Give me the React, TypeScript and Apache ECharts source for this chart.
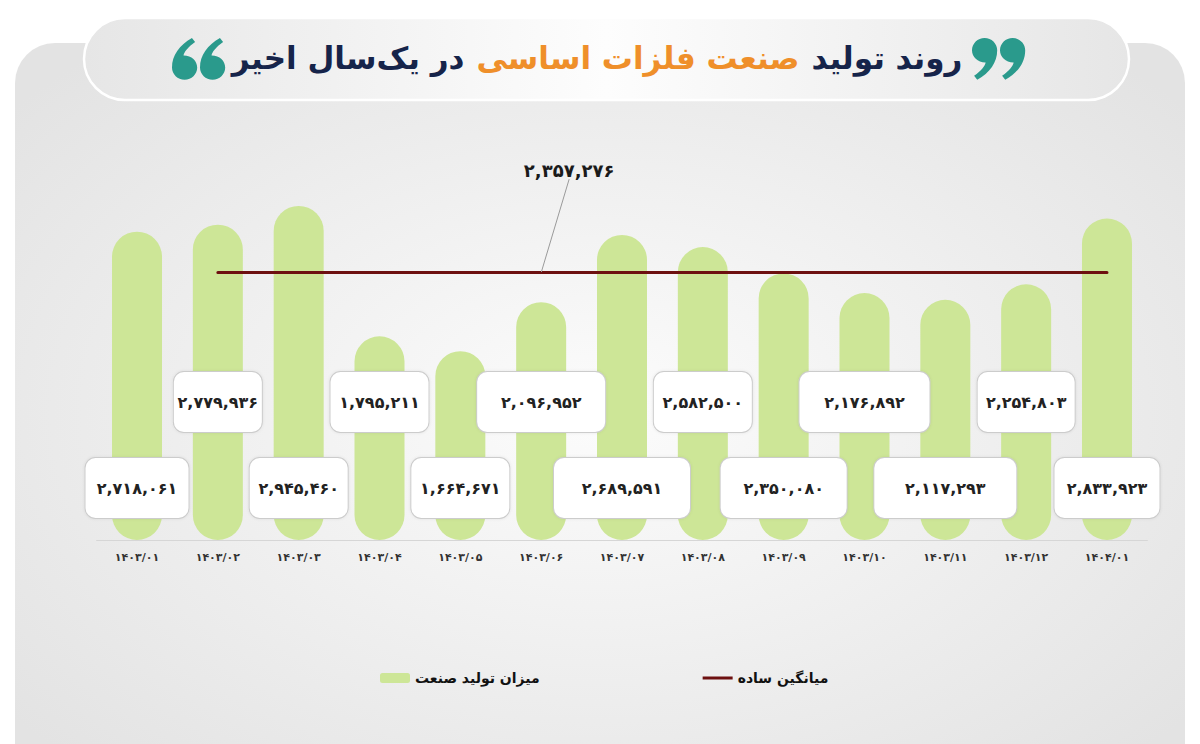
import React, { useEffect, useRef } from "react";
import * as echarts from "echarts";

const categories = ["۱۴۰۳/۰۱", "۱۴۰۳/۰۲", "۱۴۰۳/۰۳", "۱۴۰۳/۰۴", "۱۴۰۳/۰۵", "۱۴۰۳/۰۶", "۱۴۰۳/۰۷", "۱۴۰۳/۰۸", "۱۴۰۳/۰۹", "۱۴۰۳/۱۰", "۱۴۰۳/۱۱", "۱۴۰۳/۱۲", "۱۴۰۴/۰۱"];
const production = [2718061, 2779936, 2945460, 1795211, 1664671, 2096952, 2689591, 2582500, 2350080, 2176892, 2117293, 2254803, 2833923];
const average = 2357276;
const avgLabelIndex = 5;
const seriesNames = ["میزان تولید صنعت", "میانگین ساده"];
const titleParts = ["در یک‌سال اخیر", "صنعت فلزات اساسی", "روند تولید"];

const labelBoxWidths = [103, 88, 98, 98, 98, 128, 136, 98, 126, 130, 142, 97, 105];

const FA = "۰۱۲۳۴۵۶۷۸۹";
const toFa = (s: string) => s.replace(/\d/g, (d) => FA[+d]);
const fmt = (v: number) => toFa(v.toLocaleString("en-US"));

const FONT = "'DejaVu Sans', 'Noto Sans', sans-serif";

const COMMA9 = "M12 0 C18.6 0 24 5.4 24 12 C24 24 17 34 5 41 L2 37 C9 32 12.5 27 13 23.9 C5.4 24 0 18.6 0 12 C0 5.4 5.4 0 12 0 Z";
const COMMA6 = "M12 41 C5.4 41 0 35.6 0 29 C0 17 7 7 19 0 L22 4 C15 9 11.5 14 11 17.1 C18.6 17 24 22.4 24 29 C24 35.6 18.6 41 12 41 Z";
echarts.graphic.registerShape("comma9", echarts.graphic.extendPath(COMMA9, {}) as any);
echarts.graphic.registerShape("comma6", echarts.graphic.extendPath(COMMA6, {}) as any);

export default function App() {
  const ref = useRef<HTMLDivElement>(null);
  useEffect(() => {
    if (!ref.current) return;
    const chart = echarts.init(ref.current, null, { renderer: "svg" });
    const barData = production.map((v, i) => ({
      value: v,
      label: {
        distance: i % 2 === 0 ? 22 : 108,
        width: labelBoxWidths[i],
      },
    }));
    const avgData = categories.map((_, i) =>
      i === 0
        ? { value: "-" }
        : i === avgLabelIndex
        ? { value: average, label: { show: true } }
        : { value: average }
    );
    const teal = "#2a9a8c";
    const quote = (type: string, x: number) => ({
      type,
      z: 10,
      x,
      y: 38,
      scaleX: 1.05,
      scaleY: 1.02,
      style: { fill: teal },
    });
    chart.setOption({
      animation: false,
      backgroundColor: "#ffffff",
      graphic: [
        {
          type: "rect",
          z: -10,
          shape: { x: 15, y: 43, width: 1170, height: 740, r: 40 },
          style: {
            fill: {
              type: "radial",
              x: 0.5,
              y: 0.5,
              r: 0.65,
              colorStops: [
                { offset: 0, color: "#fcfcfc" },
                { offset: 1, color: "#e3e3e3" },
              ],
            },
          },
        },
        {
          type: "rect",
          z: -9,
          shape: { x: 84, y: 18, width: 1045, height: 82, r: 41 },
          style: {
            fill: {
              type: "linear",
              x: 0,
              y: 0,
              x2: 1,
              y2: 0,
              colorStops: [
                { offset: 0, color: "#e6e6e6" },
                { offset: 0.5, color: "#fdfdfd" },
                { offset: 1, color: "#e6e6e6" },
              ],
            },
            stroke: "#ffffff",
            lineWidth: 2.5,
          },
        },
        {
          type: "text",
          z: 10,
          x: 597,
          y: 58,
          style: {
            text: `{n|${titleParts[0]}}{o|${titleParts[1]}}{n|${titleParts[2]}}`,
            align: "center",
            verticalAlign: "middle",
            rich: {
              n: { fontFamily: FONT, fontWeight: "bold", fontSize: 31, fill: "#16244a", color: "#16244a" },
              o: { fontFamily: FONT, fontWeight: "bold", fontSize: 31, fill: "#ef8f2a", color: "#ef8f2a", padding: [0, 12] },
            },
          },
        },
        quote("comma9", 972),
        quote("comma9", 1000),
        quote("comma6", 172),
        quote("comma6", 200),
      ],
      legend: {
        left: 375,
        top: 666,
        itemGap: 163,
        itemWidth: 30,
        itemHeight: 10,
        data: [
          { name: seriesNames[0], icon: "roundRect" },
          { name: seriesNames[1], icon: "path://M0,0 L30,0 L30,3 L0,3 Z" },
        ],
        textStyle: { fontFamily: FONT, fontWeight: "bold", fontSize: 14, color: "#111" },
      },
      grid: { left: 96.6, right: 52.6, top: 143, bottom: 204, containLabel: false },
      xAxis: {
        type: "category",
        data: categories,
        axisLine: { lineStyle: { color: "#d6d6d6", width: 1 } },
        axisTick: { show: false },
        axisLabel: { margin: 12, fontFamily: FONT, fontWeight: "bold", fontSize: 11, color: "#333" },
      },
      yAxis: {
        type: "value",
        min: 0,
        max: 3500000,
        show: false,
        splitLine: { show: false },
      },
      series: [
        {
          name: seriesNames[0],
          type: "bar",
          data: barData,
          barWidth: 50,
          itemStyle: { color: "#cde697", borderRadius: 25 },
          label: {
            show: true,
            position: "insideBottom",
            formatter: (p: any) => fmt(p.value),
            fontFamily: FONT,
            fontWeight: "bold",
            fontSize: 16,
            color: "#222",
            backgroundColor: "#ffffff",
            borderColor: "#cccccc",
            borderWidth: 1,
            borderRadius: 10,
            padding: [22, 0],
            align: "center",
            shadowColor: "rgba(0,0,0,0.08)",
            shadowBlur: 3,
          },
        },
        {
          name: seriesNames[1],
          type: "line",
          data: avgData,
          z: 5,
          symbol: "circle",
          symbolSize: 1,
          showSymbol: true,
          showAllSymbol: true,
          itemStyle: { color: "#6d1010" },
          lineStyle: { color: "#6d1010", width: 3, cap: "round" },
          label: {
            show: false,
            position: "top",
            formatter: () => fmt(average),
            fontFamily: FONT,
            fontWeight: "bold",
            fontSize: 18,
            color: "#1a1a1a",
          },
          labelLayout: { dx: 28, dy: -88 },
          labelLine: { show: true, lineStyle: { color: "#9a9a9a", width: 1 } },
        },
      ],
    });
    return () => chart.dispose();
  }, []);
  return <div ref={ref} style={{ position: "absolute", left: 0, top: 0, width: 1200, height: 744 }} />;
}
